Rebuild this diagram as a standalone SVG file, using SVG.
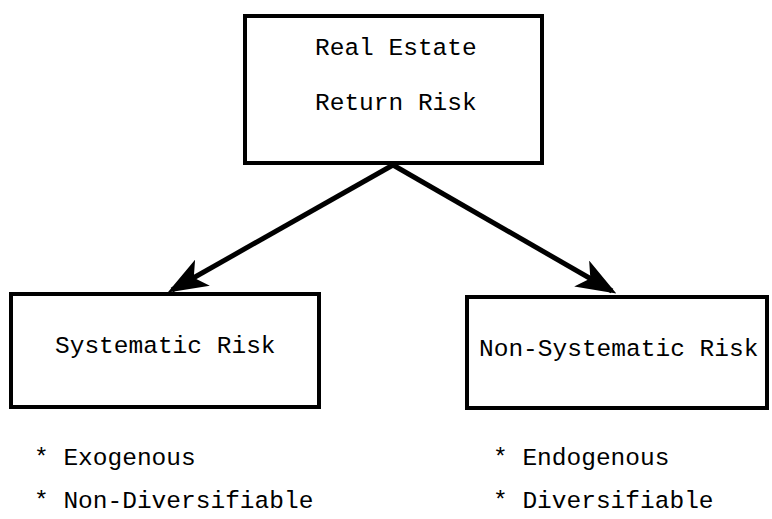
<svg xmlns="http://www.w3.org/2000/svg" width="772" height="519" viewBox="0 0 772 519">
  <style>
    .box { fill: #fff; stroke: #000; stroke-width: 4; }
    .lbl { font-family: "Liberation Mono", "Courier New", monospace; font-size: 24.5px; fill: #000; }
    .edge { stroke: #000; stroke-width: 5; fill: none; }
  </style>
  <defs>
    <marker id="head" markerWidth="8" markerHeight="6" refX="7" refY="3" orient="auto" markerUnits="strokeWidth">
      <path d="M0,0 L8,3 L0,6 L2,3 Z" fill="#000"/>
    </marker>
  </defs>
  <rect width="772" height="519" fill="#fff"/>

  <g id="connectors">
    <line class="edge" x1="393" y1="165" x2="172" y2="290" marker-end="url(#head)"/>
    <line class="edge" x1="393" y1="165" x2="612" y2="291" marker-end="url(#head)"/>
  </g>

  <g id="real-estate-return-risk">
    <rect class="box" x="245" y="16" width="297" height="147"/>
    <text class="lbl" x="315" y="55">Real Estate</text>
    <text class="lbl" x="315" y="110">Return Risk</text>
  </g>

  <g id="systematic-risk">
    <rect class="box" x="11" y="294" width="308" height="113"/>
    <text class="lbl" x="55" y="353">Systematic Risk</text>
  </g>

  <g id="non-systematic-risk">
    <rect class="box" x="467" y="297" width="300" height="111"/>
    <text class="lbl" x="479" y="356">Non-Systematic Risk</text>
  </g>

  <g id="systematic-notes">
    <text class="lbl" x="34" y="465">* Exogenous</text>
    <text class="lbl" x="34" y="508">* Non-Diversifiable</text>
  </g>

  <g id="non-systematic-notes">
    <text class="lbl" x="493" y="465">* Endogenous</text>
    <text class="lbl" x="493" y="508">* Diversifiable</text>
  </g>
</svg>
